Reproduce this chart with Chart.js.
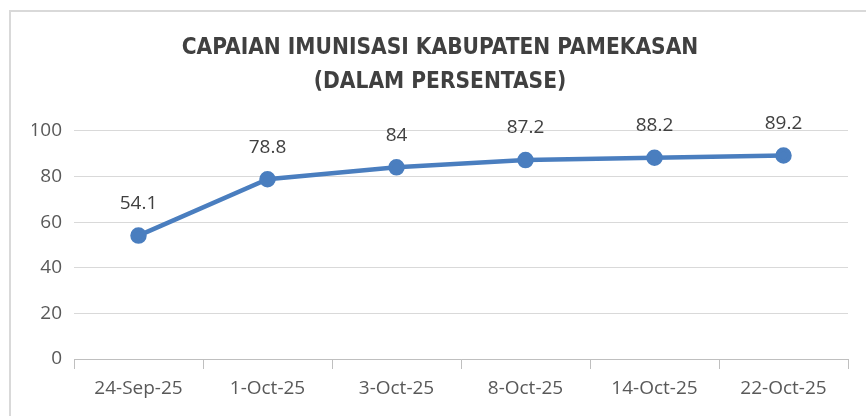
<!DOCTYPE html>
<html>
<head>
<meta charset="utf-8">
<script src="https://cdn.jsdelivr.net/npm/chart.js@4"></script>
<style>
    html, body { margin: 0; padding: 0; background: #fff; overflow: hidden; }
    #wrap { position: relative; width: 866px; height: 416px; }
    #frame {
        position: absolute; left: 9px; top: 10px; width: 900px; height: 450px;
        border-left: 2px solid #d9d9d9; border-top: 2px solid #d9d9d9;
    }
    canvas { position: absolute; left: 0; top: 0; }
</style>
</head>
<body>
<div id="wrap">
    <div id="frame"></div>
    <canvas id="chart" width="866" height="416"></canvas>
</div>
<script>
// Chart data
const dates = ['24-Sep-25', '1-Oct-25', '3-Oct-25', '8-Oct-25', '14-Oct-25', '22-Oct-25'];
const coverage = [54.1, 78.8, 84, 87.2, 88.2, 89.2];
const yTicks = [0, 20, 40, 60, 80, 100];

const titleLines = ['CAPAIAN IMUNISASI KABUPATEN PAMEKASAN', '(DALAM PERSENTASE)'];
const lineColor = '#4a7ebf';
const textFont = "'Open Sans', sans-serif";

// Draw the value above every point
const valueLabels = {
    id: 'valueLabels',
    afterDatasetsDraw(chart) {
        const ctx = chart.ctx;
        const meta = chart.getDatasetMeta(0);
        ctx.save();
        ctx.font = '19px ' + textFont;
        ctx.fillStyle = '#404040';
        ctx.textAlign = 'center';
        ctx.textBaseline = 'middle';
        meta.data.forEach((pt, i) => {
            ctx.fillText(String(coverage[i]), pt.x, pt.y - 32);
        });
        ctx.restore();
    }
};

new Chart(document.getElementById('chart'), {
    type: 'line',
    data: {
        labels: dates,
        datasets: [{
            data: coverage,
            borderColor: lineColor,
            backgroundColor: lineColor,
            borderWidth: 4.5,
            pointRadius: 6,
            pointHoverRadius: 6,
            pointBackgroundColor: lineColor,
            pointBorderColor: lineColor,
            tension: 0
        }]
    },
    options: {
        responsive: false,
        animation: false,
        layout: { padding: { top: 10, left: 32, right: 18, bottom: 0 } },
        plugins: {
            legend: { display: false },
            tooltip: { enabled: false },
            title: {
                display: true,
                text: titleLines,
                color: '#404040',
                font: { family: "'Liberation Sans Narrow', 'DejaVu Sans Condensed', sans-serif", size: 22.5, weight: 'bold', lineHeight: 1.53 },
                padding: { top: 21, bottom: 31 }
            }
        },
        scales: {
            x: {
                offset: true,
                afterFit(scale) { scale.height = 57; },
                grid: {
                    offset: true,
                    drawOnChartArea: false,
                    drawTicks: true,
                    tickLength: 10,
                    color: '#bfbfbf'
                },
                border: { display: true, color: '#bfbfbf', width: 1 },
                ticks: {
                    color: '#595959',
                    font: { family: textFont, size: 19 },
                    padding: 8,
                    maxRotation: 0,
                    autoSkip: false
                }
            },
            y: {
                min: 0,
                max: 100,
                afterFit(scale) { scale.width = 42; },
                afterBuildTicks(scale) { scale.ticks = yTicks.map(v => ({ value: v })); },
                grid: { color: '#d9d9d9', drawTicks: false },
                border: { display: false },
                ticks: {
                    color: '#595959',
                    font: { family: textFont, size: 19 },
                    padding: 12
                }
            }
        }
    },
    plugins: [valueLabels]
});
</script>
</body>
</html>
